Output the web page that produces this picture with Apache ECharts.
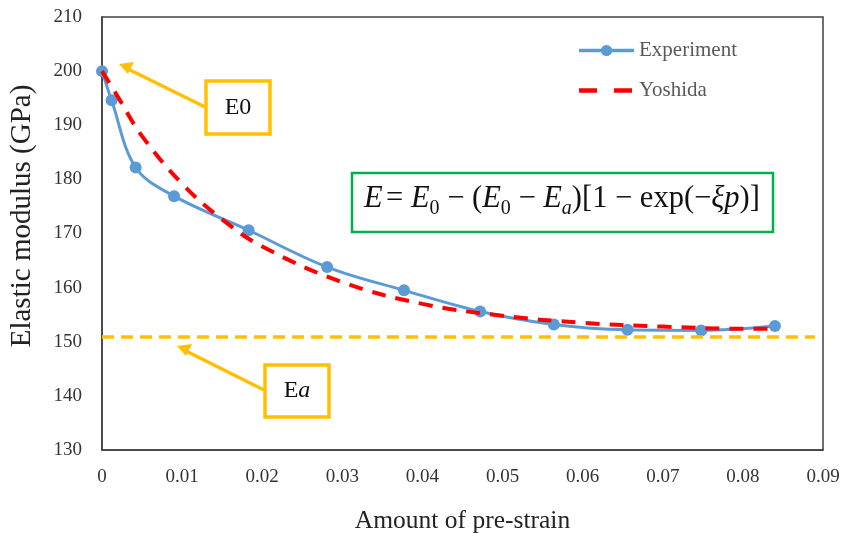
<!DOCTYPE html>
<html>
<head>
<meta charset="utf-8">
<script src="https://cdn.jsdelivr.net/npm/echarts@6/dist/echarts.min.js"></script>
<style>
  html, body { margin: 0; padding: 0; background: #fff; }
  #main { width: 856px; height: 537px; }
</style>
</head>
<body>
<div id="main"></div>
<script>
// pre-strain / modulus
var expStrain = [0, 0.0012, 0.0042, 0.0090, 0.0183, 0.0281, 0.0377, 0.0472, 0.0564, 0.0656, 0.0748, 0.0840];
var expModulus = [200, 194.6, 182.2, 176.9, 170.6, 163.8, 159.5, 155.6, 153.2, 152.2, 152.1, 152.9];

var yoshidaStrain = [0, 0.002, 0.005, 0.010, 0.015, 0.020, 0.030, 0.040, 0.050, 0.060, 0.070, 0.080, 0.084];
var yoshidaModulus = [200, 195.2, 188.0, 179.2, 172.6, 167.6, 161.0, 157.0, 154.8, 153.5, 152.8, 152.4, 152.4];

var eaLevel = 151;
var xTicks = [0, 0.01, 0.02, 0.03, 0.04, 0.05, 0.06, 0.07, 0.08, 0.09];

var serif = '"Liberation Serif", "DejaVu Serif", serif';
var chart = echarts.init(document.getElementById('main'));

var option = {
  backgroundColor: '#fff',
  animation: false,
  grid: {
    left: 102, right: 33, top: 17, bottom: 87, show: true,
    borderColor: '#404040', borderWidth: 1.5,
    containLabel: false, outerBoundsMode: 'none'
  },
  legend: {
    right: 114, top: 35, orient: 'vertical', itemGap: 19,
    itemWidth: 55, itemHeight: 14,
    textStyle: { fontFamily: serif, fontSize: 21, color: '#595959' },
    data: [
      { name: 'Experiment', lineStyle: { width: 3.5 } },
      { name: 'Yoshida', itemStyle: { opacity: 0 }, lineStyle: { width: 4.5, type: [18, 17] } }
    ]
  },
  xAxis: {
    type: 'value', min: 0, max: 0.09, interval: 0.01,
    name: 'Amount of pre-strain', nameLocation: 'middle', nameGap: 58,
    nameTextStyle: { fontFamily: serif, fontSize: 25.5, color: '#222' },
    axisLine: { show: true, lineStyle: { color: '#404040', width: 1.5 } },
    axisTick: { show: false },
    splitLine: { show: false },
    axisLabel: {
      fontFamily: serif, fontSize: 19, color: '#333', margin: 18,
      formatter: function (v) { return xTicks.indexOf(+v.toFixed(2)) >= 0 ? String(+v.toFixed(2)) : ''; }
    }
  },
  yAxis: {
    type: 'value', min: 130, max: 210, interval: 10,
    axisLine: { show: true, lineStyle: { color: '#404040', width: 1.5 } },
    axisTick: { show: false },
    splitLine: { show: false },
    axisLabel: { fontFamily: serif, fontSize: 19, color: '#333', margin: 20 }
  },
  series: [
    {
      name: 'Experiment', type: 'line', smooth: 0.35,
      data: expStrain.map(function (x, i) { return [x, expModulus[i]]; }),
      symbol: 'circle', symbolSize: 12,
      lineStyle: { color: '#5B9BD5', width: 3 },
      itemStyle: { color: '#5B9BD5' },
      z: 3
    },
    {
      name: 'Yoshida', type: 'line', smooth: 0.4,
      data: yoshidaStrain.map(function (x, i) { return [x, yoshidaModulus[i]]; }),
      showSymbol: false, symbol: 'none',
      lineStyle: { color: '#FF0000', width: 4, type: [14, 10] },
      itemStyle: { color: '#FF0000' },
      z: 4,
      markLine: {
        silent: true, symbol: 'none', label: { show: false },
        lineStyle: { color: '#FFC000', width: 3.5, type: [12, 7] },
        data: [[{ coord: [0, eaLevel] }, { coord: [0.089, eaLevel] }]]
      }
    }
  ],
  graphic: [
    // y axis title
    {
      type: 'text', x: 22, y: 216, rotation: Math.PI / 2,
      style: { text: 'Elastic modulus (GPa)', fontFamily: serif, fontSize: 29, fill: '#222', align: 'center', verticalAlign: 'middle' }
    },
    // E0 callout
    { type: 'line', shape: { x1: 205, y1: 107, x2: 128, y2: 69 }, style: { stroke: '#FFC000', lineWidth: 3.5 } },
    { type: 'polygon', shape: { points: [[119, 64], [134, 62], [128, 74]] }, style: { fill: '#FFC000' } },
    { type: 'rect', shape: { x: 206, y: 81, width: 64, height: 53 }, style: { fill: '#fff', stroke: '#FFC000', lineWidth: 3.5 } },
    { type: 'text', x: 238, y: 108, style: { text: 'E0', fontFamily: serif, fontSize: 24, fill: '#111', align: 'center', verticalAlign: 'middle' } },
    // Ea callout
    { type: 'line', shape: { x1: 264, y1: 390, x2: 186, y2: 351 }, style: { stroke: '#FFC000', lineWidth: 3.5 } },
    { type: 'polygon', shape: { points: [[177, 346], [192, 344], [186, 356]] }, style: { fill: '#FFC000' } },
    { type: 'rect', shape: { x: 265, y: 365, width: 64, height: 52 }, style: { fill: '#fff', stroke: '#FFC000', lineWidth: 3.5 } },
    {
      type: 'text', x: 297, y: 391,
      style: {
        text: '{n|E}{i|a}', align: 'center', verticalAlign: 'middle',
        rich: {
          n: { fontFamily: serif, fontSize: 24, fill: '#111' },
          i: { fontFamily: serif, fontSize: 24, fontStyle: 'italic', fill: '#111' }
        }
      }
    },
    // formula box
    { type: 'rect', shape: { x: 352, y: 173, width: 421, height: 59 }, style: { fill: '#fff', stroke: '#00B050', lineWidth: 2.5 } },
    {
      type: 'text', x: 562, y: 201,
      style: {
        text: '{i|E} {n|= }{i|E}{s|0}{n| − (}{i|E}{s|0}{n| − }{i|E}{si|a}{n|)[1 − exp(−}{i|ξp}{n|)]}',
        align: 'center', verticalAlign: 'middle',
        rich: {
          n: { fontFamily: serif, fontSize: 30.5, fill: '#111', verticalAlign: 'top', lineHeight: 35 },
          i: { fontFamily: serif, fontSize: 30.5, fontStyle: 'italic', fill: '#111', verticalAlign: 'top', lineHeight: 35 },
          s: { fontFamily: serif, fontSize: 20, fill: '#111', verticalAlign: 'bottom', lineHeight: 22, padding: [14, 0, 0, 0] },
          si: { fontFamily: serif, fontSize: 20, fontStyle: 'italic', fill: '#111', verticalAlign: 'bottom', lineHeight: 22, padding: [14, 0, 0, 0] }
        }
      }
    }
  ]
};
chart.setOption(option);
</script>
</body>
</html>
